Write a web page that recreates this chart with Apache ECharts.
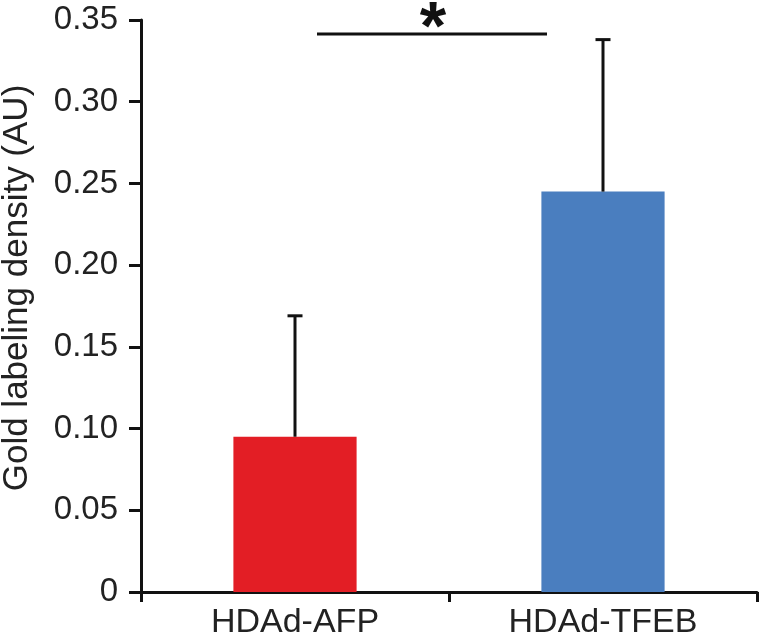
<!DOCTYPE html>
<html>
<head>
<meta charset="utf-8">
<script src="https://cdn.jsdelivr.net/npm/echarts@6/dist/echarts.min.js"></script>
<style>
html,body{margin:0;padding:0;background:#fff;}
#chart{width:762px;height:637px;}
</style>
</head>
<body>
<div id="chart"></div>
<script>
// ---- data ----
var categories = ['HDAd-AFP', 'HDAd-TFEB'];
var means = [0.095, 0.245];
var errors = [0.074, 0.093];
var barColors = ['#e31e25', '#4a7ebf'];
var yTickLabels = ['0', '0.05', '0.10', '0.15', '0.20', '0.25', '0.30', '0.35'];
var yAxisTitle = 'Gold labeling density (AU)';
var sigPair = [0, 1];
var sigLevel = 0.3415;
var sigMark = '*';

var font = 'Liberation Sans, Arial, sans-serif';
var chart = echarts.init(document.getElementById('chart'), null, {renderer: 'canvas'});

var barData = means.map(function (v, i) {
  return {value: v, itemStyle: {color: barColors[i]}};
});
var errData = means.map(function (v, i) { return [i, v, errors[i]]; });

chart.setOption({
  animation: false,
  backgroundColor: '#ffffff',
  grid: {left: 141, right: 5, top: 20, bottom: 45, containLabel: false, outerBoundsMode: 'none'},
  xAxis: {
    type: 'category',
    data: categories,
    axisLine: {lineStyle: {color: '#111', width: 3}},
    axisTick: {show: true, length: 10, lineStyle: {color: '#111', width: 3}},
    axisLabel: {color: '#222', fontSize: 34, fontFamily: font, margin: 14}
  },
  yAxis: {
    type: 'value',
    min: 0, max: 0.35, interval: 0.05,
    name: yAxisTitle,
    nameLocation: 'middle',
    nameGap: 106,
    nameTextStyle: {color: '#222', fontSize: 35, fontFamily: font, padding: [0, 0, 0, 36]},
    axisLine: {show: true, lineStyle: {color: '#111', width: 3}},
    axisTick: {show: true, length: 12, lineStyle: {color: '#111', width: 3}},
    splitLine: {show: false},
    axisLabel: {
      color: '#222', fontSize: 33, fontFamily: font, margin: 23,
      formatter: function (v) { return yTickLabels[Math.round(v / 0.05)]; }
    }
  },
  series: [
    {
      type: 'bar',
      data: barData,
      barWidth: '40%',
      z: 2
    },
    {
      type: 'custom',
      z: 5,
      data: errData,
      renderItem: function (params, api) {
        var i = api.value(0), m = api.value(1), e = api.value(2);
        var base = api.coord([i, m]);
        var top = api.coord([i, m + e]);
        var half = 7.5;
        return {
          type: 'group',
          children: [
            {type: 'line', shape: {x1: base[0], y1: base[1], x2: top[0], y2: top[1]},
             style: {stroke: '#111', lineWidth: 3}},
            {type: 'line', shape: {x1: top[0] - half, y1: top[1], x2: top[0] + half, y2: top[1]},
             style: {stroke: '#111', lineWidth: 3}}
          ]
        };
      }
    },
    {
      type: 'custom',
      z: 5,
      data: [[sigPair[0], sigPair[1], sigLevel]],
      renderItem: function (params, api) {
        var a = api.coord([api.value(0), api.value(2)]);
        var b = api.coord([api.value(1), api.value(2)]);
        var x1 = a[0] + 22, x2 = b[0] - 56;
        return {
          type: 'group',
          children: [
            {type: 'line', shape: {x1: x1, y1: a[1], x2: x2, y2: a[1]},
             style: {stroke: '#111', lineWidth: 3}},
            {type: 'text', x: (x1 + x2) / 2 + 1, y: a[1] + 30,
             style: {text: sigMark, fill: '#111', fontSize: 68, fontWeight: 'bold',
                     fontFamily: font, align: 'center', verticalAlign: 'bottom'}}
          ]
        };
      }
    }
  ]
});
</script>
</body>
</html>
